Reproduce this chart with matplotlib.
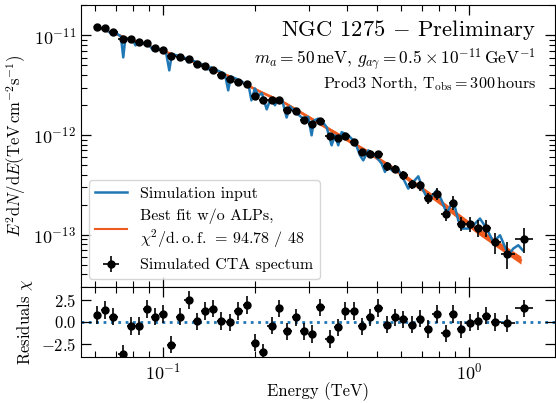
import matplotlib
matplotlib.use("Agg")
import matplotlib.pyplot as plt
import numpy as np
from matplotlib.ticker import FuncFormatter, NullFormatter, LogLocator, FixedLocator

plt.rcParams["font.family"] = "serif"
plt.rcParams["font.serif"] = ["cmr10"]
plt.rcParams["mathtext.fontset"] = "cm"
plt.rcParams["axes.formatter.use_mathtext"] = True
plt.rcParams["axes.unicode_minus"] = False

# simulated CTA spectrum (TeV, TeV cm^-2 s^-1)
energy = [0.0611, 0.0648, 0.0688, 0.0738, 0.0786, 0.0833, 0.0885, 0.0944, 0.1002, 0.1064,
          0.1136, 0.1216, 0.1291, 0.1372, 0.1462, 0.1553, 0.1652, 0.1765, 0.1886, 0.2002,
          0.2122, 0.2267, 0.2402, 0.2548, 0.2720, 0.2885, 0.3061, 0.3270, 0.3505, 0.3723,
          0.3949, 0.4218, 0.4477, 0.4737, 0.5043, 0.5408, 0.5752, 0.6100, 0.6522, 0.6915,
          0.7329, 0.7843, 0.8391, 0.8880, 0.9416, 1.0076, 1.070, 1.137, 1.216, 1.328, 1.512]
flux = [12.17e-12, 11.76e-12, 10.84e-12, 9.27e-12, 9.12e-12, 8.51e-12, 8.31e-12, 7.49e-12, 7.11e-12, 6.16e-12,
        6.06e-12, 5.85e-12, 5.12e-12, 4.91e-12, 4.45e-12, 3.99e-12, 3.66e-12, 3.42e-12, 3.26e-12, 2.47e-12,
        2.23e-12, 2.23e-12, 2.24e-12, 1.80e-12, 1.74e-12, 1.43e-12, 1.30e-12, 1.37e-12, 9.70e-13, 9.42e-13,
        9.75e-13, 8.49e-13, 6.74e-13, 6.51e-13, 6.40e-13, 4.85e-13, 4.60e-13, 3.94e-13, 3.20e-13, 3.13e-13,
        2.32e-13, 2.58e-13, 1.60e-13, 2.10e-13, 1.29e-13, 1.27e-13, 1.17e-13, 1.17e-13, 8.45e-14, 6.46e-14, 9.14e-14]
flux_rel_err = [0.015, 0.015, 0.016, 0.016, 0.017, 0.018, 0.019, 0.02, 0.021, 0.023,
                0.024, 0.026, 0.028, 0.03, 0.032, 0.034, 0.036, 0.038, 0.04, 0.044,
                0.046, 0.048, 0.05, 0.053, 0.056, 0.058, 0.06, 0.062, 0.066, 0.07,
                0.072, 0.075, 0.08, 0.085, 0.09, 0.095, 0.1, 0.105, 0.11, 0.115,
                0.12, 0.13, 0.14, 0.15, 0.16, 0.17, 0.19, 0.2, 0.24, 0.3, 0.28]
residuals = [0.76, 1.36, 0.57, -3.67, -0.5, -0.5, 1.44, 0.57, 0.87, -2.61,
             0.57, 2.46, 0.04, 1.25, 1.48, 0.1, -0.08, 1.25, 1.9, -2.39,
             -3.52, -0.45, 1.52, -1.1, 0.49, -1.1, -1.4, 1.63, -1.97, -0.64,
             1.25, 1.25, -0.53, 0.49, 1.55, -0.34, 0.49, 0.27, -0.34, 0.34,
             -0.83, 0.87, -1.33, 0.87, -0.87, -0.11, 0.1, 0.68, -0.04, -0.19, 1.52]

# simulation input (with ALPs)
sim_energy = [0.0600, 0.0661, 0.0684, 0.0702, 0.0729, 0.0742, 0.0754, 0.0798, 0.0814, 0.0832,
              0.0907, 0.0928, 0.0949, 0.1023, 0.1049, 0.1070, 0.1180, 0.1207, 0.1234, 0.1372,
              0.1403, 0.1435, 0.1594, 0.1634, 0.1668, 0.1812, 0.1867, 0.1903, 0.1946, 0.1998,
              0.2048, 0.2106, 0.2183, 0.2254, 0.2323, 0.2376, 0.2449, 0.2536, 0.2600, 0.2734,
              0.2873, 0.2983, 0.3061, 0.3115, 0.3217, 0.3300, 0.3427, 0.3558, 0.3648, 0.3740,
              0.3837, 0.4033, 0.4241, 0.4403, 0.4514, 0.4687, 0.4929, 0.5185, 0.5316, 0.5449,
              0.5590, 0.5804, 0.6026, 0.6332, 0.6577, 0.6829, 0.7090, 0.7362, 0.7843, 0.8143,
              0.8455, 0.8887, 0.9226, 0.9465, 0.9947, 1.033, 1.086, 1.142, 1.201, 1.263,
              1.311, 1.344, 1.396, 1.449, 1.498]
sim_flux = [12.31e-12, 11.10e-12, 10.12e-12, 10.60e-12, 9.77e-12, 6.02e-12, 9.44e-12, 8.91e-12, 7.94e-12, 8.61e-12,
            7.85e-12, 7.07e-12, 7.49e-12, 6.83e-12, 4.46e-12, 6.52e-12, 5.95e-12, 5.36e-12, 5.68e-12, 5.00e-12,
            4.56e-12, 4.78e-12, 4.11e-12, 2.81e-12, 3.88e-12, 3.46e-12, 3.15e-12, 3.22e-12, 2.23e-12, 2.94e-12,
            2.50e-12, 2.62e-12, 1.81e-12, 2.36e-12, 1.99e-12, 2.31e-12, 2.28e-12, 1.50e-12, 1.94e-12, 1.66e-12,
            1.46e-12, 1.52e-12, 9.93e-13, 1.40e-12, 1.46e-12, 1.40e-12, 1.20e-12, 7.88e-13, 9.93e-13, 7.88e-13,
            1.07e-12, 9.93e-13, 8.51e-13, 6.26e-13, 5.57e-13, 7.02e-13, 6.26e-13, 5.16e-13, 4.26e-13, 5.16e-13,
            4.42e-13, 4.78e-13, 3.94e-13, 2.90e-13, 3.38e-13, 3.85e-13, 2.79e-13, 2.21e-13, 2.79e-13, 2.21e-13,
            1.63e-13, 2.21e-13, 1.39e-13, 1.15e-13, 1.15e-13, 1.24e-13, 1.45e-13, 1.15e-13, 8.45e-14, 9.86e-14,
            7.52e-14, 6.21e-14, 7.25e-14, 7.83e-14, 6.97e-14]

# best fit without ALPs and its band half-width (dex)
fit_energy = [0.0600, 0.0780, 0.1015, 0.1321, 0.1656, 0.2075, 0.2504, 0.3333, 0.4642, 0.5949, 0.8223, 1.062, 1.479]
fit_flux = [1.231e-11, 9.22e-12, 6.91e-12, 5.18e-12, 3.88e-12, 2.74e-12, 2.10e-12, 1.25e-12, 6.86e-13, 4.18e-13,
            2.02e-13, 1.107e-13, 5.54e-14]
fit_band_dex = [0.012, 0.012, 0.012, 0.012, 0.013, 0.014, 0.015, 0.017, 0.02, 0.023, 0.028, 0.033, 0.04]

blue = "#1f77b4"
orange = "#ef5b1e"

e = np.array(energy)
f = np.array(flux)
mids = np.sqrt(e[:-1] * e[1:])
lo = np.concatenate([[e[0] ** 2 / mids[0]], mids])
hi = np.concatenate([mids, [e[-1] ** 2 / mids[-1]]])
xerr = [e - lo, hi - e]
yerr = f * np.array(flux_rel_err)

fig = plt.figure(figsize=(5.56, 4.03), dpi=100)
ax = fig.add_axes([0.1457, 0.2886, 0.8525, 0.6978])
axr = fig.add_axes([0.1457, 0.1149, 0.8525, 0.1737], sharex=ax)

fe = np.array(fit_energy)
ff = np.array(fit_flux)
fb = 10 ** np.array(fit_band_dex)
ax.fill_between(fe, ff / fb, ff * fb, color=orange, lw=0, zorder=2)
ax.plot(fe, ff, color=orange, lw=1.5, zorder=2,
        label="Best fit w/o ALPs,\n$\\chi^2/\\mathrm{d.o.f.}$ = 94.78 / 48")
ax.plot(sim_energy, sim_flux, color=blue, lw=1.8, zorder=3, label="Simulation input")
ax.errorbar(e, f, xerr=xerr, yerr=yerr, fmt="o", color="black", ms=5,
            elinewidth=1.2, capsize=0, zorder=4, label="Simulated CTA spectum")

ax.set_xscale("log")
ax.set_yscale("log")
ax.set_xlim(0.054, 1.91)
ax.set_ylim(3e-14, 2e-11)
ax.set_ylabel(r"$E^2\mathrm{d}N/\mathrm{d}E(\mathrm{TeV\,cm^{-2}s^{-1}})$", fontsize=12)

handles, labels = ax.get_legend_handles_labels()
order = [1, 0, 2]
ax.legend([handles[i] for i in order], [labels[i] for i in order],
          loc="lower left", fontsize=11.5, handlelength=2.0)

ax.text(0.96, 0.913, r"NGC 1275 $-$ Preliminary", transform=ax.transAxes,
        ha="right", va="center", fontsize=16.3)
ax.text(0.96, 0.808, r"$m_a = 50\,\mathrm{neV}$, $g_{a\gamma} = 0.5\times10^{-11}\,\mathrm{GeV}^{-1}$",
        transform=ax.transAxes, ha="right", va="center", fontsize=12.5)
ax.text(0.96, 0.722, r"Prod3 North, $\mathrm{T_{obs}} = 300\,\mathrm{hours}$",
        transform=ax.transAxes, ha="right", va="center", fontsize=11.6)

axr.axhline(0, color=blue, ls=":", lw=2, zorder=1)
axr.errorbar(e, residuals, xerr=xerr, yerr=1.0, fmt="o", color="black", ms=5,
             elinewidth=1.2, capsize=0, zorder=4)
axr.set_ylim(-4, 4)
axr.yaxis.set_major_locator(FixedLocator([-2.5, 0.0, 2.5]))
axr.yaxis.set_major_formatter(FuncFormatter(lambda v, p: "$%.1f$" % v))
axr.set_ylabel(r"Residuals $\chi$", fontsize=12)
axr.yaxis.set_label_coords(-0.097, 0.5)
axr.set_xlabel("Energy (TeV)", fontsize=12, labelpad=0)

for a in (ax, axr):
    a.tick_params(which="both", direction="in", top=True, right=True, labelsize=13)
    a.tick_params(which="major", length=7.5, width=0.9)
    a.tick_params(which="minor", length=4.5, width=0.8)
    a.xaxis.set_minor_formatter(NullFormatter())
axr.tick_params(axis="y", labelsize=12)
ax.yaxis.set_minor_formatter(NullFormatter())
ax.yaxis.set_minor_locator(LogLocator(base=10, subs=np.arange(2, 10), numticks=20))
plt.setp(ax.get_xticklabels(), visible=False)

fig.savefig("out.png", dpi=100)
